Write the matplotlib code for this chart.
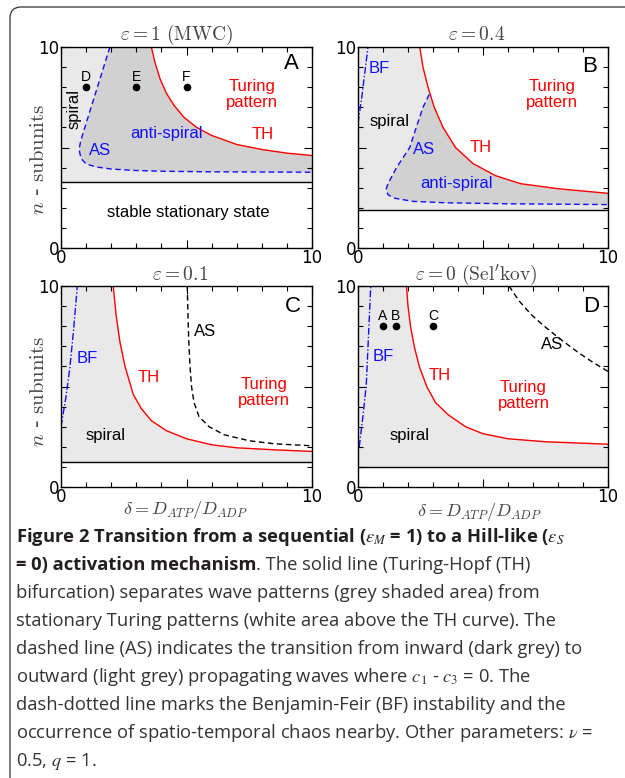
import matplotlib

matplotlib.use("Agg")

import matplotlib.pyplot as plt
from matplotlib.patches import FancyBboxPatch
from matplotlib.ticker import FixedLocator, MultipleLocator

W, H = 625, 778

# ---- data ----------------------------------------------------------------
# panel A (eps = 1, MWC)
a_th_x = [3.6, 3.75, 3.95, 4.2, 4.5, 4.9, 5.4, 6.0, 7.0, 8.0, 9.0, 10.0]
a_th_y = [10.0, 9.2, 8.4, 7.7, 7.1, 6.5, 6.0, 5.6, 5.15, 4.9, 4.72, 4.6]
a_as_x = [1.95, 1.7, 1.45, 1.2, 0.95, 0.78, 0.72, 0.8, 1.0, 1.42, 2.0, 2.9, 4.0, 6.0, 8.0, 10.0]
a_as_y = [10.0, 9.0, 8.0, 7.0, 6.0, 5.3, 4.9, 4.45, 4.18, 4.03, 3.93, 3.86, 3.82, 3.79, 3.78, 3.77]
a_stable = 3.28
a_pts_x = [1.0, 3.0, 5.0]
a_pts_y = [8.0, 8.0, 8.0]
a_pts_lab = ["D", "E", "F"]

# panel B (eps = 0.4)
b_th_x = [2.47, 2.6, 2.8, 3.05, 3.4, 3.9, 4.6, 5.5, 6.5, 8.0, 10.0]
b_th_y = [10.0, 9.0, 8.0, 7.0, 6.0, 5.0, 4.2, 3.6, 3.2, 2.95, 2.72]
b_as_x = [2.85, 2.6, 2.33, 2.07, 1.54, 1.2, 1.12, 1.2, 1.45, 2.2, 3.5, 6.0, 10.0]
b_as_y = [7.64, 7.0, 6.0, 5.0, 4.0, 3.2, 2.9, 2.65, 2.48, 2.32, 2.25, 2.2, 2.16]
b_bf_x = [0.0, 0.15, 0.28, 0.4]
b_bf_y = [6.2, 7.5, 8.8, 10.0]
b_stable = 1.89

# panel C (eps = 0.1)
c_th_x = [2.08, 2.2, 2.35, 2.55, 2.88, 3.2, 3.6, 4.2, 5.0, 6.0, 7.0, 8.5, 10.0]
c_th_y = [10.0, 8.5, 7.2, 6.0, 4.6, 3.9, 3.3, 2.8, 2.4, 2.1, 1.95, 1.85, 1.77]
c_as_x = [5.03, 5.05, 5.07, 5.1, 5.14, 5.2, 5.3, 5.5, 5.9, 6.5, 7.5, 8.5, 10.0]
c_as_y = [10.0, 9.0, 8.0, 7.0, 6.0, 5.0, 4.2, 3.5, 3.0, 2.6, 2.3, 2.15, 2.05]
c_bf_x = [0.0, 0.2, 0.35, 0.5, 0.65]
c_bf_y = [3.0, 4.5, 5.9, 7.8, 10.0]
c_stable = 1.24

# panel D (eps = 0, Sel'kov)
d_th_x = [1.94, 2.0, 2.1, 2.25, 2.45, 2.75, 3.1, 3.6, 4.3, 5.0, 6.0, 7.5, 10.0]
d_th_y = [10.0, 9.0, 8.0, 7.0, 6.0, 5.0, 4.2, 3.6, 3.0, 2.65, 2.4, 2.25, 2.13]
d_as_x = [6.04, 6.45, 6.95, 7.5, 8.1, 8.8, 9.4, 10.0]
d_as_y = [10.0, 9.25, 8.55, 7.95, 7.35, 6.7, 6.2, 5.75]
d_bf_x = [0.05, 0.2, 0.33, 0.51]
d_bf_y = [2.0, 3.55, 5.06, 10.0]
d_stable = 1.0
d_pts_x = [1.0, 1.5, 3.0]
d_pts_y = [8.0, 8.0, 8.0]
d_pts_lab = ["A", "B", "C"]

titles = [r"$\varepsilon = 1\ \mathrm{(MWC)}$", r"$\varepsilon = 0.4$",
          r"$\varepsilon = 0.1$", r"$\varepsilon = 0\ \mathrm{(Sel'kov)}$"]

LIGHT = "#e9e9e9"
DARK = "#d1d1d1"
RED = "#ff0000"
BLUE = "#1010ff"
SANS = "Liberation Sans"


def px(x, y):
    return x / W, 1 - y / H


def setup(ax):
    ax.set_xlim(0, 10)
    ax.set_ylim(0, 10)
    for s in ax.spines.values():
        s.set_linewidth(1.0)
    ax.xaxis.set_major_locator(FixedLocator([0, 5, 10]))
    ax.yaxis.set_major_locator(FixedLocator([0, 5, 10]))
    ax.xaxis.set_minor_locator(MultipleLocator(1))
    ax.yaxis.set_minor_locator(MultipleLocator(1))
    ax.set_xticklabels(["0", "", "10"])
    ax.set_yticklabels(["0", "", "10"])
    ax.tick_params(which="both", direction="in", top=True, right=True,
                   labelsize=12, pad=1, width=0.8)
    ax.tick_params(which="major", length=6)
    ax.tick_params(which="minor", length=3.5)


def label(ax, x, y, s, color="black", size=12, **kw):
    ax.text(x, y, s, color=color, fontsize=size, family=SANS,
            ha="center", va="center", linespacing=1.05, **kw)


fig = plt.figure(figsize=(W / 100, H / 100), dpi=100)

frame = FancyBboxPatch((10, -40), 700, 811, boxstyle="round,pad=0,rounding_size=11",
                       transform=None, fill=False, edgecolor="#333333", linewidth=0.9)
fig.patches.append(frame)

axA = fig.add_axes([61 / W, 1 - 248 / H, 251 / W, 201 / H])
axB = fig.add_axes([358 / W, 1 - 248 / H, 250 / W, 201 / H])
axC = fig.add_axes([61 / W, 1 - 487 / H, 251 / W, 201 / H])
axD = fig.add_axes([358 / W, 1 - 487 / H, 250 / W, 201 / H])

# ---- A --------------------------------------------------------------------
ax = axA
ax.fill([0, 10] + a_th_x[::-1] + [0], [a_stable, a_stable] + a_th_y[::-1] + [10],
        color=LIGHT, lw=0)
ax.fill(a_as_x + a_th_x[::-1], a_as_y + a_th_y[::-1], color=DARK, lw=0)
ax.axhline(a_stable, color="black", lw=1.0)
ax.plot(a_th_x, a_th_y, color=RED, lw=1.0)
ax.plot(a_as_x, a_as_y, color=BLUE, lw=1.0, dashes=(4, 2.5))
ax.plot(a_pts_x, a_pts_y, "o", color="black", ms=4.5)
for x, y, s in zip(a_pts_x, a_pts_y, a_pts_lab):
    label(ax, x, y + 0.5, s, size=10)
label(ax, 7.6, 7.63, "Turing\npattern", RED)
label(ax, 8.05, 5.65, "TH", RED)
label(ax, 4.2, 5.69, "anti-spiral", BLUE)
label(ax, 1.55, 4.83, "AS", BLUE)
label(ax, 0.52, 6.9, "spiral", rotation=90)
label(ax, 5.07, 1.76, "stable stationary state")
label(ax, 9.18, 9.17, "A", size=16)

# ---- B --------------------------------------------------------------------
ax = axB
ax.fill([0, 10] + b_th_x[::-1] + [0], [b_stable, b_stable] + b_th_y[::-1] + [10],
        color=LIGHT, lw=0)
ax.fill(b_as_x + b_th_x[::-1][:-4], b_as_y + b_th_y[::-1][:-4], color=DARK, lw=0)
ax.axhline(b_stable, color="black", lw=1.0)
ax.plot(b_th_x, b_th_y, color=RED, lw=1.0)
ax.plot(b_as_x, b_as_y, color=BLUE, lw=1.0, dashes=(4, 2.5))
ax.plot(b_bf_x, b_bf_y, color=BLUE, lw=1.0, dashes=(5, 1.5, 1, 1.5))
label(ax, 0.87, 8.92, "BF", BLUE)
label(ax, 1.27, 6.31, "spiral")
label(ax, 2.63, 4.9, "AS", BLUE)
label(ax, 4.9, 5.02, "TH", RED)
label(ax, 7.75, 7.64, "Turing\npattern", RED)
label(ax, 3.94, 3.19, "anti-spiral", BLUE)
label(ax, 9.26, 9.05, "B", size=16)

# ---- C --------------------------------------------------------------------
ax = axC
ax.fill([0, 10] + c_th_x[::-1] + [0], [c_stable, c_stable] + c_th_y[::-1] + [10],
        color=LIGHT, lw=0)
ax.axhline(c_stable, color="black", lw=1.0)
ax.plot(c_th_x, c_th_y, color=RED, lw=1.0)
ax.plot(c_as_x, c_as_y, color="black", lw=1.0, dashes=(4, 2.5))
ax.plot(c_bf_x, c_bf_y, color=BLUE, lw=1.0, dashes=(5, 1.5, 1, 1.5))
label(ax, 1.05, 6.4, "BF", BLUE)
label(ax, 3.5, 5.45, "TH", RED)
label(ax, 5.73, 7.72, "AS")
label(ax, 8.09, 4.71, "Turing\npattern", RED)
label(ax, 1.79, 2.55, "spiral")
label(ax, 9.22, 8.96, "C", size=16)

# ---- D --------------------------------------------------------------------
ax = axD
ax.fill([0, 10] + d_th_x[::-1] + [0], [d_stable, d_stable] + d_th_y[::-1] + [10],
        color=LIGHT, lw=0)
ax.axhline(d_stable, color="black", lw=1.0)
ax.plot(d_th_x, d_th_y, color=RED, lw=1.0)
ax.plot(d_as_x, d_as_y, color="black", lw=1.0, dashes=(4, 2.5))
ax.plot(d_bf_x, d_bf_y, color=BLUE, lw=1.0, dashes=(5, 1.5, 1, 1.5))
ax.plot(d_pts_x, d_pts_y, "o", color="black", ms=4.5)
for x, y, s in zip(d_pts_x, d_pts_y, d_pts_lab):
    label(ax, x, y + 0.5, s, size=10)
label(ax, 1.0, 6.48, "BF", BLUE)
label(ax, 3.25, 5.53, "TH", RED)
label(ax, 7.75, 7.1, "AS")
label(ax, 6.62, 4.56, "Turing\npattern", RED)
label(ax, 2.05, 2.58, "spiral")
label(ax, 9.33, 9.0, "D", size=16)

for ax in (axA, axB, axC, axD):
    setup(ax)

# titles and axis labels
for (x, y), t in zip([(177, 35), (477, 35), (180, 275), (476, 275)], titles):
    fig.text(*px(x, y), t, ha="center", va="center", fontsize=14,
             color="#444444", math_fontfamily="cm")
for x, y in [(38, 159), (38, 391)]:
    fig.text(*px(x, y), r"$n$ - $\mathrm{subunits}$", ha="center", va="center",
             rotation=90, fontsize=15, color="#444444", math_fontfamily="cm")
for x, y in [(185, 510), (479, 512)]:
    fig.text(*px(x, y), r"$\delta = D_{ATP}/D_{ADP}$", ha="center", va="center",
             fontsize=13, color="#444444", math_fontfamily="cm")

# ---- caption ----------------------------------------------------------------
cap = fig.add_axes([0, 0, 1, 1])
cap.axis("off")
CAPF = "Open Sans"
CS = 13.2
X0 = 16
BASE = 542
STEP = 28
lines = [
    None,
    None,
    "bifurcation) separates wave patterns (grey shaded area) from",
    "stationary Turing patterns (white area above the TH curve). The",
    "dashed line (AS) indicates the transition from inward (dark grey) to",
    r"outward (light grey) propagating waves where $c_1$ - $c_3$ = 0. The",
    "dash-dotted line marks the Benjamin-Feir (BF) instability and the",
    r"occurrence of spatio-temporal chaos nearby. Other parameters: $\nu$ =",
    r"0.5, $q$ = 1.",
]
fig.text(*px(X0, BASE),
         r"Figure 2 Transition from a sequential ($\varepsilon_M$ = 1) to a Hill-like ($\varepsilon_S$",
         fontsize=CS, family=CAPF, weight="bold", va="baseline", color="#231f20",
         math_fontfamily="stix")
t1 = fig.text(*px(X0, BASE + STEP), "= 0) activation mechanism", fontsize=CS,
              family=CAPF, weight="bold", va="baseline", color="#231f20")
cap.annotate(". The solid line (Turing-Hopf (TH)", xy=(1, 0), xycoords=t1,
             fontsize=CS, family=CAPF, va="bottom", ha="left", color="#333333")
for i, s in enumerate(lines):
    if s is None:
        continue
    fig.text(*px(X0, BASE + STEP * i), s, fontsize=CS, family=CAPF,
             va="baseline", color="#333333", math_fontfamily="stix")

fig.savefig("out.png", dpi=100)
plt.close(fig)
